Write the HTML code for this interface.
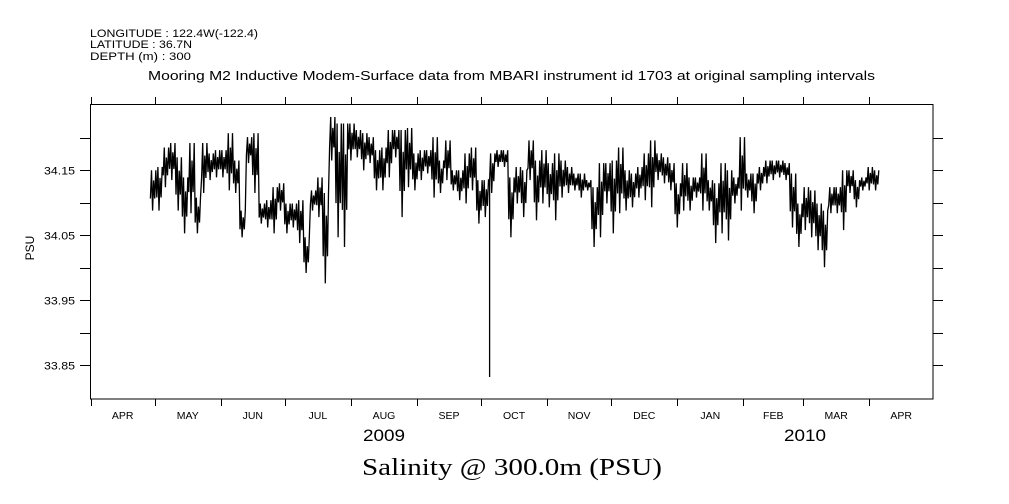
<!DOCTYPE html>
<html><head><meta charset="utf-8"><style>
html,body{margin:0;padding:0;background:#fff;}
svg{display:block;font-family:"Liberation Sans",sans-serif;}
</style></head><body>
<svg id="chart" width="1009" height="504" viewBox="0 0 1009 504">
<g font-size="11" fill="#000">
<text x="90" y="37" textLength="168" lengthAdjust="spacingAndGlyphs">LONGITUDE : 122.4W(-122.4)</text>
<text x="90" y="48" textLength="102" lengthAdjust="spacingAndGlyphs">LATITUDE : 36.7N</text>
<text x="90" y="60" textLength="101" lengthAdjust="spacingAndGlyphs">DEPTH (m) : 300</text>
</g>
<text x="148" y="80" textLength="727" lengthAdjust="spacingAndGlyphs" font-size="12.5">Mooring M2 Inductive Modem-Surface data from MBARI instrument id 1703 at original sampling intervals</text>
<rect x="90.5" y="104.5" width="842.5" height="294.5" fill="none" stroke="#000" stroke-width="1"/>
<g id="yaxis"></g>
<g id="xaxis"></g>
<g id="series"></g>
<text transform="translate(34,248) rotate(-90)" text-anchor="middle" font-size="12">PSU</text>
<text x="363" y="441" textLength="42" lengthAdjust="spacingAndGlyphs" font-size="17">2009</text>
<text x="784" y="441" textLength="42" lengthAdjust="spacingAndGlyphs" font-size="17">2010</text>
<text x="362" y="475" textLength="300" lengthAdjust="spacingAndGlyphs" font-size="24" font-family="Liberation Serif, serif">Salinity @ 300.0m (PSU)</text>
</svg>
<script>
const yTicks = [34.20, 34.15, 34.10, 34.05, 34.00, 33.95, 33.90, 33.85];
const yLabels = ["34.15", "34.05", "33.95", "33.85"];
const monthTickDays = [0, 30, 61, 91, 122, 153, 183, 214, 244, 275, 306, 334, 365];
const monthLabels = ["APR","MAY","JUN","JUL","AUG","SEP","OCT","NOV","DEC","JAN","FEB","MAR","APR"];
const startDay = 28;
const stepDays = 3;
const hiVals = [34.150,34.155,34.185,34.192,34.170,34.139,34.192,34.108,34.192,34.176,34.181,34.181,34.207,34.165,34.088,34.201,34.207,34.099,34.104,34.124,34.130,34.099,34.099,34.104,34.047,34.119,34.139,34.115,34.232,34.222,34.222,34.222,34.212,34.207,34.201,34.181,34.185,34.212,34.212,34.212,34.215,34.176,34.181,34.181,34.201,34.165,34.196,34.150,34.150,34.176,34.185,34.135,34.135,34.176,34.181,34.181,34.139,34.155,34.150,34.196,34.165,34.181,34.161,34.176,34.165,34.155,34.145,34.145,34.135,34.124,34.161,34.161,34.165,34.185,34.150,34.145,34.155,34.176,34.196,34.176,34.170,34.161,34.130,34.161,34.139,34.139,34.176,34.135,34.130,34.161,34.150,34.139,34.201,34.145,34.145,34.155,34.165,34.165,34.165,34.161,34.145,34.099,34.124,34.119,34.099,34.088,34.124,34.124,34.150,34.150,34.135,34.139,34.155,34.150];
const loVals = [34.088,34.088,34.124,34.135,34.088,34.053,34.084,34.053,34.115,34.135,34.139,34.139,34.119,34.115,34.047,34.161,34.115,34.068,34.062,34.053,34.088,34.053,34.062,34.038,33.992,34.088,34.078,33.976,34.165,34.047,34.032,34.165,34.170,34.150,34.161,34.119,34.119,34.139,34.170,34.078,34.124,34.119,34.135,34.145,34.108,34.115,34.135,34.119,34.104,34.099,34.119,34.068,34.078,34.115,34.155,34.155,34.047,34.099,34.078,34.135,34.073,34.099,34.093,34.073,34.108,34.115,34.119,34.108,34.119,34.032,34.047,34.099,34.053,34.084,34.088,34.093,34.108,34.104,34.093,34.135,34.130,34.119,34.062,34.088,34.088,34.108,34.088,34.088,34.038,34.053,34.042,34.099,34.088,34.108,34.084,34.119,34.130,34.135,34.139,34.135,34.062,34.032,34.058,34.047,34.027,34.001,34.084,34.084,34.058,34.115,34.093,34.119,34.119,34.119];
const spikeDays = [187.2];
const spikeVals = [33.832];

const NS = "http://www.w3.org/2000/svg";
const X0 = 90.7, XS = 2.133;
const xOf = d => X0 + d * XS;
const yOf = v => 170.3 - (v - 34.15) * 650;
function mk(tag, attrs, parent) {
  const e = document.createElementNS(NS, tag);
  for (const k in attrs) e.setAttribute(k, attrs[k]);
  parent.appendChild(e);
  return e;
}
const yax = document.getElementById('yaxis');
yTicks.forEach(v => {
  const y = Math.round(yOf(v)) + 0.5;
  const l = mk('line', {x1: 80, x2: 90.5, y1: y, y2: y, stroke: '#000'}, yax);
  
  
  const r = mk('line', {x1: 933, x2: 943, y1: y, y2: y, stroke: '#000'}, yax);
  
  
});
yLabels.forEach(s => {
  const t = mk('text', {x: 44, y: yOf(parseFloat(s)) + 4, 'font-size': 11, textLength: 31, lengthAdjust: 'spacingAndGlyphs'}, yax);
  t.textContent = s;
  
  
});
const xax = document.getElementById('xaxis');
monthTickDays.forEach(d => {
  const x = Math.round(xOf(d)) + 0.5;
  const b = mk('line', {x1: x, x2: x, y1: 399, y2: 406, stroke: '#000'}, xax);
  
  
  const t = mk('line', {x1: x, x2: x, y1: 97, y2: 104.5, stroke: '#000'}, xax);
  
  
});
monthLabels.forEach((m, i) => {
  const d0 = monthTickDays[i];
  const d1 = i + 1 < monthTickDays.length ? monthTickDays[i + 1] : 394.9;
  const t = mk('text', {x: (xOf(d0) + xOf(d1)) / 2, y: 419, 'text-anchor': 'middle', 'font-size': 10.5}, xax);
  t.textContent = m;
  
  
});
const ser = document.getElementById('series');
let pts = [];
hiVals.forEach((h, i) => {
  const d = startDay + i * stepDays;
  const lo = loVals[i];
  const mh = h - (h - lo) * 0.25, ml = lo + (h - lo) * 0.3;
  spikeDays.forEach((sd, k) => {
    if (sd >= d && sd < d + stepDays) pts.push([xOf(d), yOf(ml)], [xOf(d), yOf(spikeVals[k])], [xOf(d), yOf(ml)]);
  });
  pts.push([xOf(d), yOf(ml)], [xOf(d + 0.5), yOf(h)], [xOf(d + 1.0), yOf(lo)], [xOf(d + 1.5), yOf(mh)], [xOf(d + 2.0), yOf(ml)], [xOf(d + 2.5), yOf(h)]);
});
const path = mk('polyline', {points: pts.map(p => p[0].toFixed(1) + ',' + p[1].toFixed(1)).join(' '), fill: 'none', stroke: '#000', 'stroke-width': 1.3, 'stroke-linejoin': 'miter'}, ser);


</script>
</body></html>
